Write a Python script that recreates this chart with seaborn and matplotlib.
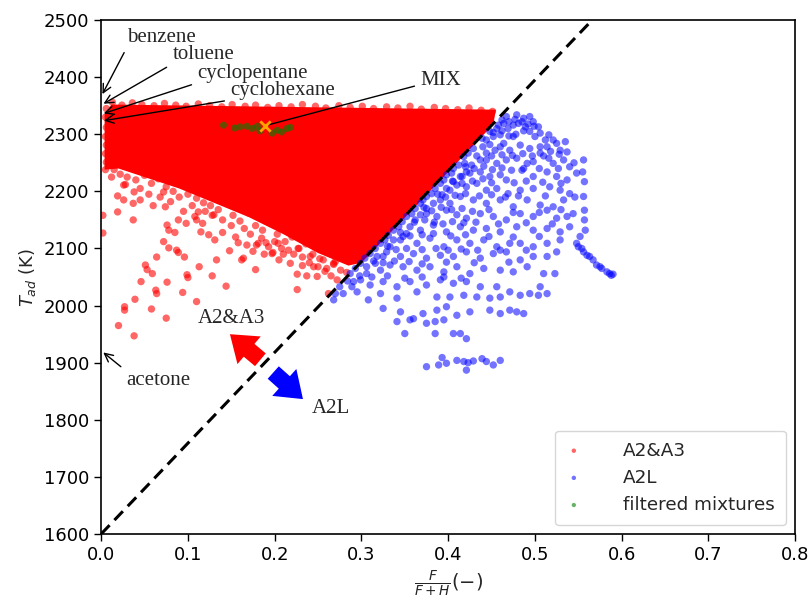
import matplotlib
matplotlib.use("Agg")
import matplotlib.pyplot as plt
import pandas as pd
import seaborn as sns

# A2&A3 cloud: the saturated core (outline)
core_x = [0.012, 0.455, 0.452, 0.40, 0.35, 0.30, 0.285, 0.25, 0.21, 0.17, 0.13, 0.09, 0.05, 0.02,
          0.004, 0.004]
core_t = [2352, 2343, 2317, 2234, 2154, 2075, 2070, 2092, 2125, 2155, 2180, 2205, 2225, 2240,
          2238, 2335]

# A2&A3 single points (top edge, axis column, lower fringe, sparse points)
red_x = [0.013, 0.024, 0.036, 0.047, 0.061, 0.073, 0.086, 0.098, 0.112, 0.125, 0.139, 0.151,
         0.166, 0.178, 0.192, 0.205, 0.219, 0.232, 0.247, 0.259, 0.274, 0.287, 0.301, 0.314,
         0.329, 0.342, 0.356, 0.369, 0.384, 0.397, 0.411, 0.424, 0.438, 0.451,
         0.006, 0.005, 0.006, 0.005, 0.006, 0.005, 0.006, 0.005, 0.002, 0.002,
         0.015, 0.022, 0.030, 0.040, 0.050, 0.058, 0.066, 0.075, 0.083, 0.092, 0.100, 0.110,
         0.118, 0.126, 0.135, 0.143, 0.152, 0.160, 0.170, 0.178, 0.186, 0.195, 0.203, 0.212,
         0.220, 0.228, 0.236, 0.244, 0.252, 0.260, 0.268, 0.276, 0.283,
         0.012, 0.028, 0.045, 0.055, 0.068, 0.080, 0.090, 0.105, 0.120, 0.128, 0.140, 0.150,
         0.165, 0.172, 0.185, 0.190, 0.200, 0.208, 0.222, 0.232, 0.240, 0.250, 0.258, 0.265,
         0.232, 0.205, 0.188, 0.175, 0.155, 0.140, 0.110, 0.095, 0.060, 0.045,
         0.026, 0.019, 0.026, 0.037, 0.019, 0.037, 0.038, 0.072, 0.074, 0.076, 0.078, 0.085,
         0.072, 0.078, 0.087, 0.089, 0.096, 0.064, 0.051, 0.053, 0.059, 0.046, 0.076, 0.099,
         0.100, 0.063, 0.064, 0.094, 0.039, 0.027, 0.027, 0.058, 0.075, 0.020, 0.038, 0.113,
         0.128, 0.110, 0.133, 0.108, 0.117, 0.115, 0.124, 0.131, 0.098, 0.089, 0.118, 0.112,
         0.130, 0.148, 0.158, 0.162, 0.178, 0.144, 0.198, 0.210, 0.227, 0.218, 0.226, 0.237,
         0.249, 0.226, 0.260, 0.272, 0.168, 0.181, 0.193, 0.204, 0.216, 0.241, 0.245, 0.256,
         0.268, 0.179, 0.197, 0.164, 0.262, 0.270]
red_t = [2356, 2351, 2355, 2352, 2350, 2354, 2351, 2349, 2353, 2350, 2348, 2352,
         2349, 2351, 2347, 2350, 2348, 2352, 2349, 2346, 2350, 2347, 2349, 2345,
         2348, 2346, 2349, 2344, 2347, 2345, 2343, 2346, 2342, 2340,
         2345, 2330, 2312, 2296, 2281, 2266, 2251, 2238, 2158, 2127,
         2238, 2230, 2225, 2220, 2228, 2214, 2222, 2208, 2200, 2212, 2195, 2188,
         2198, 2175, 2168, 2182, 2158, 2148, 2162, 2140, 2132, 2145, 2125, 2112,
         2120, 2100, 2108, 2090, 2082, 2095, 2072, 2062, 2058,
         2225, 2212, 2205, 2195, 2190, 2182, 2190, 2175, 2165, 2158, 2150, 2140,
         2135, 2125, 2118, 2110, 2112, 2100, 2090, 2085, 2075, 2068, 2060, 2052,
         2070, 2080, 2090, 2095, 2120, 2128, 2150, 2165, 2175, 2185,
         2211, 2192, 2185, 2179, 2164, 2150, 2199, 2199, 2173, 2141, 2132, 2128,
         2112, 2101, 2097, 2093, 2085, 2085, 2071, 2063, 2056, 2042, 2041, 2054,
         2049, 2027, 2021, 2023, 2011, 1998, 1992, 1994, 1978, 1965, 1947, 2068,
         2052, 2007, 2080, 2156, 2144, 2129, 2124, 2115, 2144, 2150, 2180, 2164,
         2159, 2096, 2110, 2080, 2063, 2034, 2093, 2090, 2100, 2074, 2055, 2052,
         2051, 2028, 2065, 2045, 2106, 2109, 2103, 2109, 2097, 2086, 2068, 2080,
         2074, 2106, 2091, 2083, 2021, 2077]

# A2L points
blue_x = [0.460, 0.471, 0.483, 0.494, 0.506, 0.514, 0.525, 0.535, 0.537,
          0.444, 0.456, 0.467, 0.479, 0.491, 0.498, 0.516, 0.521, 0.533, 0.540,
          0.414, 0.425, 0.437, 0.448, 0.460, 0.467, 0.485, 0.498, 0.514, 0.525, 0.537, 0.548,
          0.402, 0.410, 0.421, 0.433, 0.444, 0.456, 0.469, 0.483, 0.498, 0.517, 0.529, 0.540,
          0.391, 0.402, 0.414, 0.429, 0.444, 0.460, 0.475, 0.491, 0.506, 0.521, 0.533,
          0.375, 0.387, 0.398, 0.410, 0.421, 0.437, 0.452, 0.467, 0.483, 0.498, 0.514, 0.525, 0.537, 0.544,
          0.356, 0.368, 0.383, 0.398, 0.414, 0.429, 0.444, 0.460, 0.479, 0.498, 0.514, 0.529, 0.540,
          0.337, 0.348, 0.364, 0.379, 0.395, 0.410, 0.425, 0.441, 0.456, 0.471, 0.483, 0.498, 0.514, 0.529, 0.548,
          0.318, 0.329, 0.345, 0.360, 0.375, 0.391, 0.406, 0.421, 0.437, 0.452, 0.467, 0.483, 0.498, 0.514, 0.525,
          0.306, 0.322, 0.333, 0.348, 0.364, 0.379, 0.395, 0.410, 0.425, 0.441, 0.460, 0.475, 0.491, 0.510, 0.523,
          0.291, 0.310, 0.325, 0.341, 0.356, 0.375, 0.391, 0.406, 0.421, 0.437, 0.456, 0.506,
          0.295, 0.308, 0.322, 0.341, 0.364, 0.387, 0.402, 0.418, 0.433, 0.448, 0.460, 0.471, 0.483, 0.494, 0.504, 0.514,
          0.325, 0.345, 0.360, 0.371, 0.387, 0.398, 0.410, 0.425, 0.448, 0.460, 0.471, 0.479, 0.487,
          0.341, 0.356, 0.375, 0.385, 0.395, 0.350, 0.385, 0.406, 0.414, 0.421,
          0.375, 0.389, 0.393, 0.398, 0.410, 0.418, 0.423, 0.429, 0.439, 0.444, 0.452, 0.460, 0.421,
          0.556, 0.555, 0.557, 0.556, 0.557, 0.557, 0.558, 0.552, 0.550, 0.556, 0.560, 0.567, 0.571,
          0.577, 0.583, 0.590, 0.554, 0.563, 0.575, 0.586, 0.588,
          0.467, 0.479, 0.487, 0.494, 0.498, 0.504, 0.506, 0.500, 0.494, 0.489, 0.481, 0.475, 0.469,
          0.464, 0.456, 0.460, 0.452, 0.448, 0.444, 0.439, 0.429, 0.423, 0.418, 0.419, 0.412, 0.406,
          0.404, 0.398, 0.395, 0.391, 0.385, 0.381, 0.375, 0.371, 0.368, 0.362, 0.358, 0.352, 0.347,
          0.343, 0.337, 0.331, 0.327, 0.322, 0.316, 0.310, 0.304, 0.299, 0.293, 0.287, 0.284, 0.275,
          0.270, 0.268,
          0.475, 0.464, 0.454, 0.444, 0.437, 0.427, 0.421, 0.416, 0.406, 0.398, 0.393, 0.383, 0.375,
          0.368, 0.362, 0.352, 0.345, 0.333, 0.325, 0.316, 0.306, 0.299, 0.289, 0.279,
          0.516, 0.521, 0.512, 0.529, 0.506,
          0.458, 0.462, 0.470, 0.477, 0.485, 0.492, 0.499, 0.487, 0.478, 0.470, 0.462, 0.452,
          0.433, 0.440, 0.448, 0.450, 0.462, 0.474, 0.486, 0.497, 0.510, 0.518, 0.528,
          0.420, 0.430, 0.441, 0.451, 0.462, 0.473, 0.487, 0.505, 0.527, 0.545,
          0.405, 0.416, 0.428, 0.440, 0.450, 0.476, 0.490, 0.509, 0.530,
          0.388, 0.397, 0.408, 0.420, 0.436, 0.450, 0.466, 0.481, 0.512, 0.546,
          0.372, 0.381, 0.392, 0.404, 0.416, 0.428, 0.447, 0.475, 0.505, 0.530,
          0.361, 0.373, 0.384, 0.394, 0.405, 0.418, 0.432, 0.458, 0.490, 0.520,
          0.345, 0.356, 0.370, 0.383, 0.403, 0.420, 0.447, 0.475, 0.505,
          0.330, 0.340, 0.352, 0.370, 0.386, 0.400, 0.415, 0.434, 0.460, 0.490,
          0.314, 0.325, 0.338, 0.355, 0.370, 0.398, 0.430, 0.470,
          0.298, 0.312, 0.330, 0.350, 0.370, 0.395, 0.415]
blue_t = [2278, 2272, 2281, 2275, 2267, 2278, 2284, 2287, 2269,
          2255, 2249, 2255, 2258, 2249, 2252, 2258, 2249, 2255, 2243,
          2226, 2232, 2234, 2226, 2229, 2220, 2237, 2226, 2234, 2226, 2220, 2232,
          2202, 2211, 2208, 2214, 2202, 2205, 2196, 2202, 2205, 2208, 2202, 2196,
          2185, 2179, 2191, 2185, 2179, 2185, 2173, 2185, 2176, 2173, 2185,
          2161, 2156, 2167, 2159, 2153, 2161, 2156, 2150, 2161, 2156, 2167, 2153, 2156, 2161,
          2138, 2132, 2141, 2129, 2138, 2132, 2135, 2129, 2138, 2132, 2135, 2129, 2138,
          2115, 2121, 2109, 2118, 2103, 2115, 2109, 2115, 2103, 2109, 2109, 2103, 2109, 2115, 2109,
          2086, 2094, 2086, 2091, 2083, 2088, 2086, 2094, 2083, 2091, 2094, 2080, 2086, 2086, 2094,
          2068, 2062, 2071, 2068, 2062, 2068, 2059, 2068, 2056, 2065, 2062, 2059, 2068, 2056, 2056,
          2042, 2036, 2042, 2033, 2042, 2036, 2045, 2039, 2042, 2033, 2033, 2033,
          2024, 2010, 2021, 2013, 2024, 2015, 2015, 2018, 2015, 2013, 2015, 2024, 2018, 2021, 2018, 2021,
          1995, 1989, 1977, 1986, 1992, 1998, 1983, 1989, 1992, 1986, 1992, 1989, 1986,
          1972, 1975, 1969, 1972, 1975, 1951, 1951, 1951, 1951, 1942,
          1893, 1896, 1909, 1899, 1904, 1902, 1900, 1903, 1907, 1902, 1896, 1904, 1887,
          2255, 2234, 2217, 2191, 2167, 2150, 2132, 2121, 2103, 2094, 2088, 2080, 2071,
          2065, 2059, 2055, 2100, 2086, 2068, 2056, 2053,
          2331, 2334, 2328, 2331, 2322, 2313, 2302, 2296, 2305, 2313, 2319, 2316, 2310,
          2319, 2310, 2299, 2296, 2305, 2290, 2293, 2275, 2267, 2261, 2249, 2246, 2240,
          2232, 2229, 2220, 2214, 2205, 2196, 2191, 2185, 2179, 2170, 2161, 2156, 2147,
          2138, 2132, 2123, 2115, 2109, 2100, 2091, 2083, 2074, 2065, 2056, 2043, 2033,
          2021, 2010,
          2296, 2284, 2272, 2267, 2255, 2246, 2234, 2226, 2217, 2205, 2194, 2179, 2170,
          2159, 2150, 2126, 2115, 2103, 2086, 2074, 2056, 2045, 2033, 2021,
          2299, 2290, 2290, 2272, 2278,
          2316, 2325, 2322, 2326, 2322, 2318, 2314, 2306, 2300, 2297, 2306, 2303,
          2262, 2278, 2282, 2262, 2264, 2263, 2266, 2262, 2262, 2270, 2265,
          2243, 2240, 2244, 2238, 2241, 2237, 2240, 2240, 2240, 2250,
          2218, 2214, 2218, 2222, 2215, 2215, 2218, 2216, 2214,
          2195, 2190, 2193, 2196, 2192, 2194, 2190, 2192, 2192, 2190,
          2172, 2166, 2172, 2168, 2170, 2165, 2168, 2163, 2163, 2168,
          2146, 2150, 2146, 2143, 2147, 2145, 2146, 2143, 2145, 2143,
          2128, 2122, 2124, 2126, 2122, 2124, 2121, 2120, 2121,
          2104, 2098, 2100, 2098, 2100, 2097, 2099, 2097, 2097, 2097,
          2078, 2075, 2078, 2077, 2073, 2076, 2075, 2076,
          2052, 2050, 2052, 2048, 2050, 2050, 2048]

# filtered mixtures and the selected mixture
green_x = [0.141, 0.154, 0.160, 0.168, 0.174, 0.180, 0.183, 0.197, 0.203, 0.208, 0.214, 0.218]
green_t = [2316, 2311, 2313, 2314, 2310, 2314, 2306, 2302, 2307, 2304, 2310, 2312]
mix_x = [0.189]
mix_t = [2315]

# flammability boundary line
boundary_x = [0.0, 0.566]
boundary_t = [1600, 2500]

# pure components (on the T axis)
comp_names = ["benzene", "toluene", "cyclopentane", "cyclohexane", "acetone"]
comp_t = [2366, 2351, 2335, 2323, 1921]
comp_text_x = [0.030, 0.082, 0.111, 0.149, 0.029]
comp_text_t = [2453, 2423, 2390, 2360, 1852]

sns.set_style("ticks")
plt.rcParams["font.family"] = ["DejaVu Sans"]
plt.rcParams["axes.edgecolor"] = "black"
plt.rcParams["xtick.color"] = "black"
plt.rcParams["ytick.color"] = "black"
plt.rcParams["mathtext.fontset"] = "dejavusans"

fig = plt.figure(figsize=(8.09, 6.03), dpi=100)
ax = fig.add_axes([0.125, 0.1144, 0.858, 0.8524])

ax.fill(core_x, core_t, color="red", lw=0, zorder=1)

red = pd.DataFrame({"x": red_x, "t": red_t})
blue = pd.DataFrame({"x": blue_x, "t": blue_t})
green = pd.DataFrame({"x": green_x, "t": green_t})
sns.scatterplot(data=red, x="x", y="t", color="red", alpha=0.6, s=28, edgecolor="none",
                label="A2&A3", ax=ax, zorder=2)
sns.scatterplot(data=blue, x="x", y="t", color="blue", alpha=0.55, s=28, edgecolor="none",
                label="A2L", ax=ax, zorder=2)
sns.scatterplot(data=green, x="x", y="t", color="green", alpha=0.6, s=26, edgecolor="none",
                label="filtered mixtures", ax=ax, zorder=3)
ax.plot(boundary_x, boundary_t, color="black", lw=2.2, dashes=(4, 2.3), zorder=4)
ax.scatter(mix_x, mix_t, marker="x", color="orange", s=55, lw=2, zorder=5)

serif = ["Liberation Serif", "DejaVu Serif"]
for name, t, tx, tt in zip(comp_names, comp_t, comp_text_x, comp_text_t):
    rel = (0, 1) if name == "acetone" else (0, 0)
    ax.annotate(name, xy=(0, t), xytext=(tx, tt), ha="left", va="bottom",
                fontsize=15, family=serif, annotation_clip=False,
                arrowprops=dict(arrowstyle="->", color="black", lw=1, relpos=rel))
ax.annotate("MIX", xy=(mix_x[0], mix_t[0]), xytext=(0.368, 2377), ha="left", va="bottom",
            fontsize=15, family=serif,
            arrowprops=dict(arrowstyle="-", color="black", lw=1, relpos=(0, 0.3)))

ax.text(0.111, 1978, "A2&A3", fontsize=15, family=serif, va="center")
ax.text(0.243, 1819, "A2L", fontsize=15, family=serif, va="center")
ax.annotate("", xy=(0.146, 1953), xytext=(0.186, 1902),
            arrowprops=dict(arrowstyle="simple,head_width=1.3,head_length=0.9,tail_width=0.6",
                            color="red", lw=0, mutation_scale=20))
ax.annotate("", xy=(0.235, 1833), xytext=(0.196, 1886),
            arrowprops=dict(arrowstyle="simple,head_width=1.3,head_length=0.9,tail_width=0.6",
                            color="blue", lw=0, mutation_scale=20))

ax.set_xlim(0, 0.8)
ax.set_ylim(1600, 2500)
ax.set_xticks([0.0, 0.1, 0.2, 0.3, 0.4, 0.5, 0.6, 0.7, 0.8])
ax.set_yticks(range(1600, 2501, 100))
ax.tick_params(labelsize=13, length=5, width=1)
for sp in ax.spines.values():
    sp.set_linewidth(1.2)
ax.set_xlabel(r"$\frac{F}{F+H}(-)$", fontsize=14)
ax.set_ylabel(r"$T_{ad}$ (K)", fontsize=13)

ax.legend(loc="lower right", fontsize=13.2, markerscale=0.6, handlelength=0.8,
          handletextpad=2.3, borderpad=0.6, labelspacing=0.5)

fig.savefig("out.png", dpi=100)
